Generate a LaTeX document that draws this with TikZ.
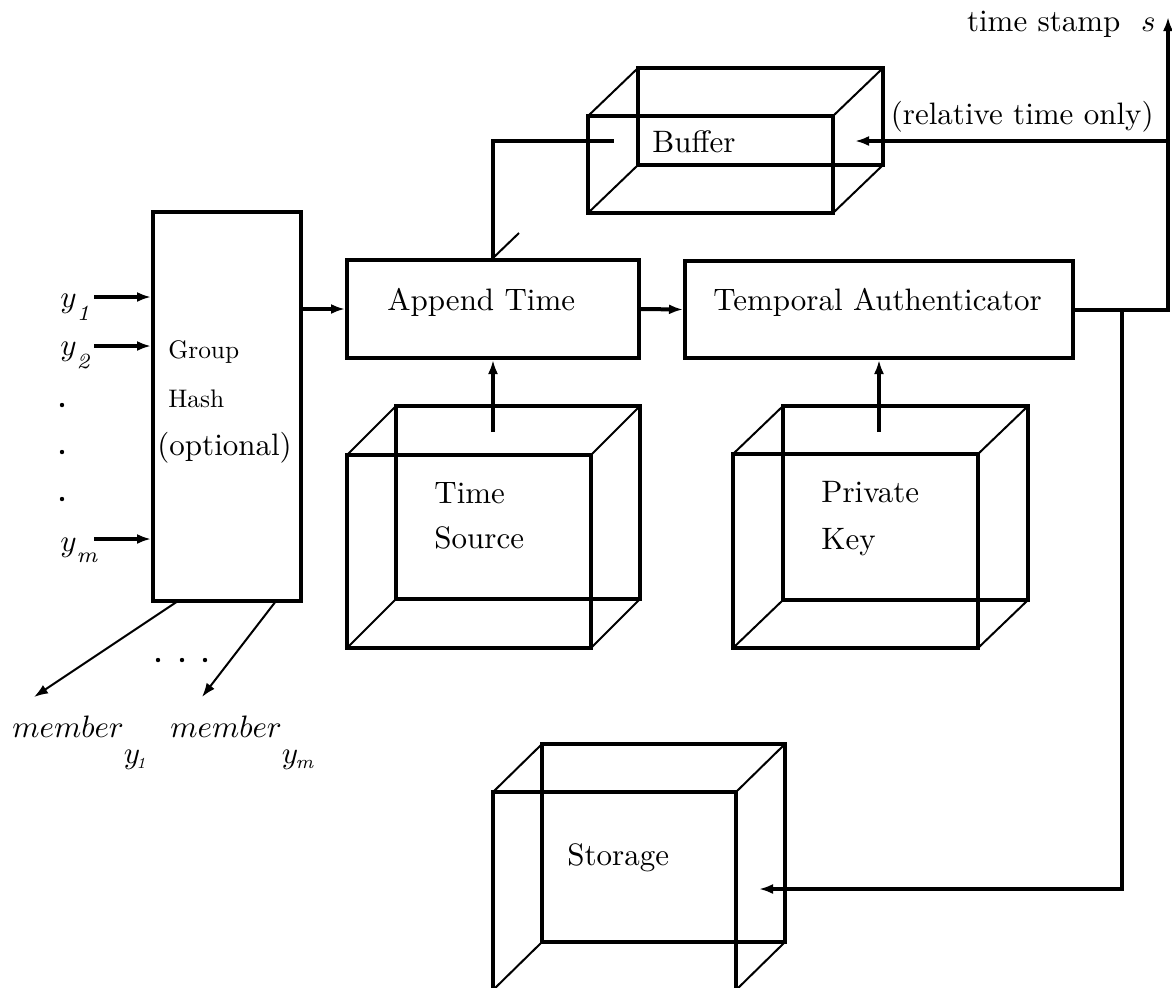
\documentclass[tikz,border=0pt]{standalone}
\usepackage{graphicx}
\usetikzlibrary{arrows.meta}

\tikzset{
  x=0.5pt, y=-0.5pt,
  heavy/.style={line width=2pt},
  light/.style={line width=1pt},
  tip/.style={-{Latex[length=7pt,width=5pt]}},
  lbl/.style={anchor=base west, inner sep=0pt, font=\fontsize{10}{12}\selectfont},
  blockbox/.style={draw, heavy, inner sep=0pt},
}

% text is set at 10pt and enlarged, keeping the proportions of the 10pt design
\newcommand{\txt}[1]{\scalebox{1.55}{#1}}
\newcommand{\smtxt}[1]{\scalebox{1.27}{#1}}

% wire-frame crate: name, front face x1,y1,x2,y2, depth offset dx,dy
\newcommand{\crate}[7]{%
  \node[blockbox, minimum width={(#4-#2)*0.5pt}, minimum height={(#5-#3)*0.5pt}]
    (#1) at ({(#2+#4)/2},{(#3+#5)/2}) {};
  \draw[heavy] ({#2+#6},{#3+#7}) rectangle ({#4+#6},{#5+#7});
  \draw[light] (#2,#3) -- ++(#6,#7) (#4,#3) -- ++(#6,#7)
               (#2,#5) -- ++(#6,#7) (#4,#5) -- ++(#6,#7);
}

\begin{document}
\begin{tikzpicture}
\clip (0,0) rectangle (1172,987);
\useasboundingbox (0,0) rectangle (1172,987);

% ---- blocks
\node[blockbox, minimum width=74pt, minimum height=194.5pt] (hash) at (227,406.5) {};
\node[blockbox, minimum width=146pt, minimum height=49pt] (append) at (493,309) {};
\node[blockbox, minimum width=194pt, minimum height=48.5pt] (temporal) at (879,309.5) {};

\crate{buffer}{588}{116}{833}{213}{50}{-48}
\crate{timesrc}{347}{455}{591}{648}{49}{-49}
\crate{privkey}{733}{454}{978}{648}{50}{-48}
\crate{storage}{493}{792}{736}{990}{49}{-48}

% ---- texts
\node[lbl] (tbuf) at (652,152) {\txt{Buffer}};
\node[lbl, anchor=base east] (trel) at (1154,124) {\txt{(relative time only)}};
\node[lbl, anchor=base east] (tstamp) at (1156,31) {\txt{time stamp \ $s$}};
\node[lbl] (tapp) at (387,310) {\txt{Append Time}};
\node[lbl] (ttemp) at (713,310) {\txt{Temporal Authenticator}};
\node[lbl] (tgroup) at (168,358) {\smtxt{Group}};
\node[lbl] (thash) at (168,407) {\smtxt{Hash}};
\node[lbl] (topt) at (157,455) {\txt{(optional)}};
\node[lbl] (ttime) at (434,503) {\txt{Time}};
\node[lbl] (tsource) at (434,548) {\txt{Source}};
\node[lbl] (tpriv) at (821,502) {\txt{Private}};
\node[lbl] (tkey) at (821,549) {\txt{Key}};
\node[lbl] (tstor) at (567,865) {\txt{Storage}};

\node[lbl] (ly1) at (60,307) {\txt{$y$\raisebox{-4.2pt}{$\scriptstyle\mathit{1}$}}};
\node[lbl] (ly2) at (60,355) {\txt{$y$\raisebox{-4.2pt}{$\scriptstyle\mathit{2}$}}};
\node[lbl] (lym) at (60,551) {\txt{$y$\raisebox{-3.6pt}{$\scriptstyle\mathit{m}$}}};
\fill (62,405) circle (1.1pt) (62,452) circle (1.1pt) (62,499) circle (1.1pt);
\fill (158,660) circle (1.1pt) (182,660) circle (1.1pt) (205,660) circle (1.1pt);

\node[lbl] (mem1) at (12,737)
  {\txt{$member$\raisebox{-8.4pt}{$y$\kern-1.2pt\raisebox{-1.6pt}{\fontsize{5.5}{6}\selectfont$\mathit{1}$}}}};
\node[lbl] (memm) at (170,737)
  {\txt{$member$\raisebox{-8.4pt}{$y$\kern-0.8pt\raisebox{-1.6pt}{\fontsize{6.5}{7}\selectfont$\mathit{m}$}}}};

% ---- connector end points
\coordinate (in1) at (94,297);
\coordinate (in2) at (94,346);
\coordinate (inm) at (94,539);
\coordinate (out1) at (178,601);
\coordinate (outm) at (276,601);
\coordinate (to1) at (34,697);
\coordinate (tom) at (202,697);
\coordinate (tsout) at (493,432);
\coordinate (pkout) at (879,432);
\coordinate (bufin) at (614,141);
\coordinate (stamp) at (1168,17);
\coordinate (relsrc) at (1168,141);
\coordinate (bufret) at (855,141);
\coordinate (tap) at (1122,309.5);
\coordinate (storein) at (759,889);

% ---- connectors
\draw[heavy,tip] (in1) -- (in1 -| hash.west);
\draw[heavy,tip] (in2) -- (in2 -| hash.west);
\draw[heavy,tip] (inm) -- (inm -| hash.west);
\draw[light,tip] (out1) -- (to1);
\draw[light,tip] (outm) -- (tom);

\draw[heavy,tip] (hash.east |- append.west) -- (append.west);
\draw[heavy,tip] (append.east) -- (temporal.west);
\draw[heavy,tip] (tsout) -- (append.south);
\draw[heavy,tip] (pkout) -- (temporal.south);

\draw[heavy] (append.north) |- (bufin);
\draw[light] (append.north) -- ++(26,-25);

\draw[heavy,tip] (temporal.east) -| (stamp);
\draw[heavy,tip] (relsrc) -- (bufret);
\draw[heavy,tip] (tap) |- (storein);
\end{tikzpicture}
\end{document}
